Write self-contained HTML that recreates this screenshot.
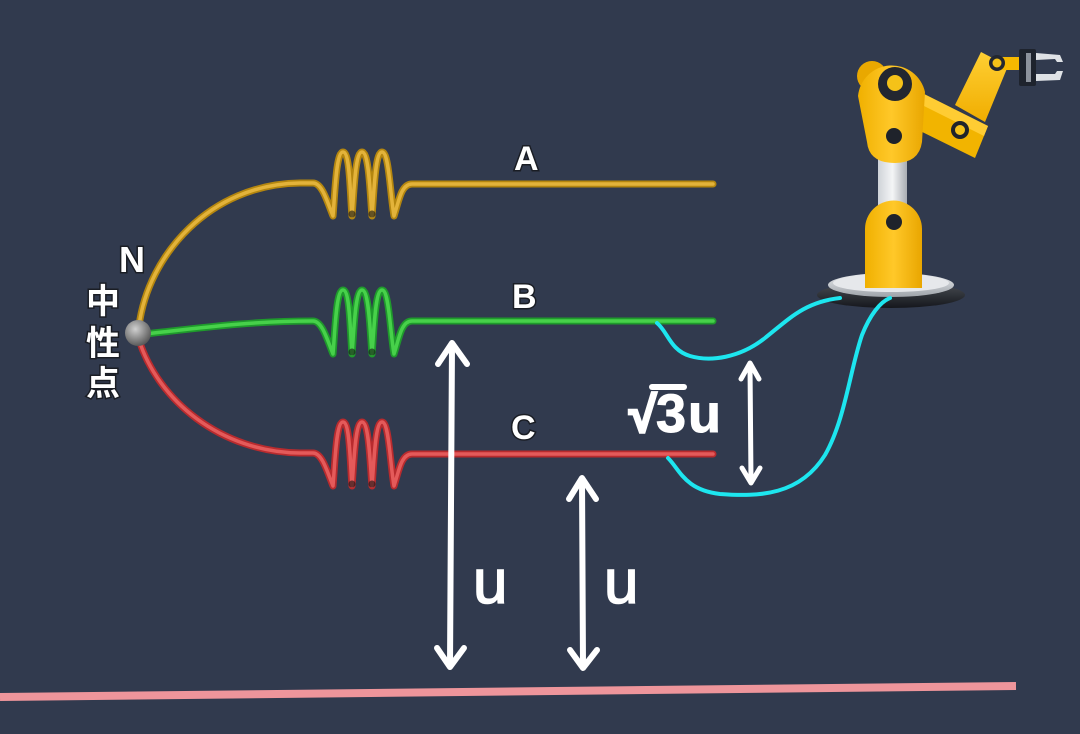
<!DOCTYPE html>
<html><head><meta charset="utf-8"><style>
html,body{margin:0;padding:0;background:#313a4e;}
svg{display:block;}
.lbl{font-family:"Liberation Sans",sans-serif;font-weight:bold;fill:#fff;stroke:#1a1d24;stroke-width:3;paint-order:stroke;}
.cjk{font-family:"Liberation Sans","Noto Sans CJK SC",sans-serif;font-weight:bold;fill:#fff;stroke:#1a1d24;stroke-width:3;paint-order:stroke;}
.hand{font-family:"Liberation Sans","DejaVu Sans",sans-serif;fill:#fff;stroke:#fff;}
</style></head><body>
<svg width="1080" height="734" viewBox="0 0 1080 734" xmlns="http://www.w3.org/2000/svg">
<defs>
<radialGradient id="ball" cx="40%" cy="35%" r="65%"><stop offset="0" stop-color="#d0d0d0"/><stop offset="1" stop-color="#5a5a5a"/></radialGradient>
<linearGradient id="yel" x1="0" y1="0" x2="1" y2="0"><stop offset="0" stop-color="#f0b000"/><stop offset="0.5" stop-color="#ffc829"/><stop offset="1" stop-color="#e9a600"/></linearGradient>
<linearGradient id="yel2" x1="0" y1="0" x2="0" y2="1"><stop offset="0" stop-color="#ffcf33"/><stop offset="1" stop-color="#f0ad00"/></linearGradient>
<linearGradient id="silv" x1="0" y1="0" x2="1" y2="0"><stop offset="0" stop-color="#cfd3d8"/><stop offset="0.5" stop-color="#f4f5f6"/><stop offset="1" stop-color="#a9adb3"/></linearGradient>
<linearGradient id="silvTop" x1="0" y1="0" x2="0" y2="1"><stop offset="0" stop-color="#e9ebee"/><stop offset="1" stop-color="#9ea3aa"/></linearGradient>
<linearGradient id="disc" x1="0" y1="0" x2="0" y2="1"><stop offset="0" stop-color="#4a4e55"/><stop offset="1" stop-color="#15171c"/></linearGradient>
</defs>

<!-- bottom pink line -->
<path d="M0 697 L1016 686" stroke="#ee959b" stroke-width="8" fill="none"/>

<g fill="none" stroke-linecap="round" stroke-linejoin="round">
<!-- Wire A -->
<path id="wa" d="M139 326 C148 255, 210 184, 300 183 L313 183 C322 183, 327 201, 333 216 C335 193, 336 152, 343 152 C350 152, 350 193, 352 216 C354 193, 355 152, 362 152 C369 152, 370 193, 372 216 C374 193, 375 152, 382 152 C389 152, 390 193, 394 216 C399 201, 401 184, 412 184 L713 184" stroke="#b4860f" stroke-width="7"/>
<path d="M139 326 C148 255, 210 184, 300 183 L313 183 C322 183, 327 201, 333 216 C335 193, 336 152, 343 152 C350 152, 350 193, 352 216 C354 193, 355 152, 362 152 C369 152, 370 193, 372 216 C374 193, 375 152, 382 152 C389 152, 390 193, 394 216 C399 201, 401 184, 412 184 L713 184" stroke="#e3b33a" stroke-width="3.5"/>

<!-- Wire B -->
<path d="M145 334 C200 328, 250 321, 313 321 C322 321, 327 339, 333 354 C335 331, 336 290, 343 290 C350 290, 350 331, 352 354 C354 331, 355 290, 362 290 C369 290, 370 331, 372 354 C374 331, 375 290, 382 290 C389 290, 390 331, 394 354 C399 339, 401 321, 412 321 L713 321" stroke="#1f9a2c" stroke-width="7"/>
<path d="M145 334 C200 328, 250 321, 313 321 C322 321, 327 339, 333 354 C335 331, 336 290, 343 290 C350 290, 350 331, 352 354 C354 331, 355 290, 362 290 C369 290, 370 331, 372 354 C374 331, 375 290, 382 290 C389 290, 390 331, 394 354 C399 339, 401 321, 412 321 L713 321" stroke="#47d14a" stroke-width="3.5"/>

<!-- Wire C -->
<path d="M139 340 C158 400, 220 452, 300 453 L313 453 C322 453, 327 471, 333 486 C335 463, 336 422, 343 422 C350 422, 350 463, 352 486 C354 463, 355 422, 362 422 C369 422, 370 463, 372 486 C374 463, 375 422, 382 422 C389 422, 390 463, 394 486 C399 471, 401 454, 412 454 L713 454" stroke="#b82b2e" stroke-width="7"/>
<path d="M139 340 C158 400, 220 452, 300 453 L313 453 C322 453, 327 471, 333 486 C335 463, 336 422, 343 422 C350 422, 350 463, 352 486 C354 463, 355 422, 362 422 C369 422, 370 463, 372 486 C374 463, 375 422, 382 422 C389 422, 390 463, 394 486 C399 471, 401 454, 412 454 L713 454" stroke="#e45a5a" stroke-width="3.5"/>
</g>

<!-- coil shadows -->
<g fill="#141414" opacity="0.6">
<ellipse cx="352" cy="214" rx="3.5" ry="3.5"/><ellipse cx="372" cy="214" rx="3.5" ry="3.5"/>
<ellipse cx="352" cy="352" rx="3.5" ry="3.5"/><ellipse cx="372" cy="352" rx="3.5" ry="3.5"/>
<ellipse cx="352" cy="484" rx="3.5" ry="3.5"/><ellipse cx="372" cy="484" rx="3.5" ry="3.5"/>
</g>

<!-- neutral ball -->
<circle cx="138" cy="333" r="13" fill="url(#ball)"/>

<!-- labels -->
<text class="lbl" x="119" y="272" font-size="36">N</text>
<text class="cjk" x="86" y="313" font-size="34">中</text>
<text class="cjk" x="86" y="355" font-size="34">性</text>
<text class="cjk" x="86" y="395" font-size="34">点</text>
<text class="lbl" x="514" y="170" font-size="34">A</text>
<text class="lbl" x="512" y="308" font-size="34">B</text>
<text class="lbl" x="511" y="439" font-size="34">C</text>

<!-- white arrows -->
<g stroke="#fff" fill="none" stroke-linecap="round" stroke-linejoin="round">
<path d="M452 345 L450 665" stroke-width="6"/>
<path d="M438 364 L452 343 L467 364" stroke-width="6"/>
<path d="M437 648 L450 667 L464 648" stroke-width="6"/>
<path d="M582 480 L583 666" stroke-width="6"/>
<path d="M569 499 L582 478 L596 499" stroke-width="6"/>
<path d="M570 650 L583 668 L597 650" stroke-width="6"/>
<path d="M750 365 L751 481" stroke-width="5"/>
<path d="M741 379 L750 363 L759 379" stroke-width="5"/>
<path d="M742 468 L751 483 L760 468" stroke-width="5"/>
</g>
<text class="hand" x="473" y="603" font-size="62" stroke-width="1.5">u</text>
<text class="hand" x="604" y="603" font-size="62" stroke-width="1.5">u</text>

<!-- sqrt3 u -->
<g>
<text class="hand" font-weight="bold" x="629" y="432" font-size="50" stroke-width="2.5">√</text>
<path d="M652 387 L684 387" stroke="#fff" stroke-width="6" stroke-linecap="round"/>
<text class="hand" font-weight="bold" x="656" y="432" font-size="54" stroke-width="1">3</text>
<text class="hand" font-weight="bold" x="688" y="432" font-size="54" stroke-width="1">u</text>
</g>

<!-- Robot -->
<g>
<ellipse cx="891" cy="295" rx="74" ry="13" fill="url(#disc)"/>
<ellipse cx="891" cy="285" rx="63" ry="12" fill="url(#silvTop)"/>
<ellipse cx="891" cy="283" rx="58" ry="9" fill="#e6e8eb"/>
<rect x="878" y="156" width="29" height="50" fill="url(#silv)"/>
<path d="M865 288 L865 229 A28.5 28.5 0 0 1 922 229 L922 288 Z" fill="url(#yel)"/>
<circle cx="894" cy="222" r="8" fill="#1f232b"/>
<!-- arm segment 1 -->
<polygon points="916,90 988,126 975,158 906,124" fill="#f2b400"/>
<polygon points="916,90 988,126 984,136 912,100" fill="#ffcc33"/>
<!-- arm segment 2 -->
<polygon points="955,105 981,52 1008,66 985,122" fill="url(#yel2)"/>
<circle cx="960" cy="130" r="9" fill="#1f232b"/>
<circle cx="960" cy="130" r="5" fill="#f5c218"/>
<!-- shoulder -->
<circle cx="872" cy="76" r="15" fill="#e9a800"/>
<path d="M858 96 A34 34 0 0 1 925 92 L922 142 Q919 163 895 163 Q869 163 867 142 Z" fill="url(#yel)"/>
<circle cx="895" cy="84" r="17" fill="#232730"/>
<circle cx="895" cy="83" r="8" fill="#f5c218"/>
<circle cx="894" cy="136" r="8" fill="#1f232b"/>
<!-- wrist & gripper -->
<rect x="998" y="57" width="24" height="13" fill="#f5b800"/>
<circle cx="997" cy="63" r="8" fill="#232730"/>
<circle cx="997" cy="63" r="4.5" fill="#f5c218"/>
<rect x="1019" y="49" width="17" height="37" rx="2" fill="#1e232d"/>
<rect x="1026" y="53" width="5" height="29" fill="#8c929c"/>
<path d="M1036 53 L1060 55 L1063 62 L1057 62 L1055 59 L1036 60 Z" fill="#dfe2e6"/>
<path d="M1036 74 L1055 74 L1057 71 L1063 71 L1060 80 L1036 81 Z" fill="#dfe2e6"/>
</g>

<!-- cyan wires -->
<g fill="none" stroke="#1de6ef" stroke-width="4" stroke-linecap="round">
<path d="M657 323 C668 332, 670 350, 690 356 C710 362, 740 358, 765 338 C790 318, 805 302, 840 298"/>
<path d="M668 458 C680 470, 685 490, 720 494 C760 497, 800 495, 825 455 C845 420, 850 370, 862 335 C870 315, 880 302, 890 298"/>
</g>
</svg>
</body></html>
